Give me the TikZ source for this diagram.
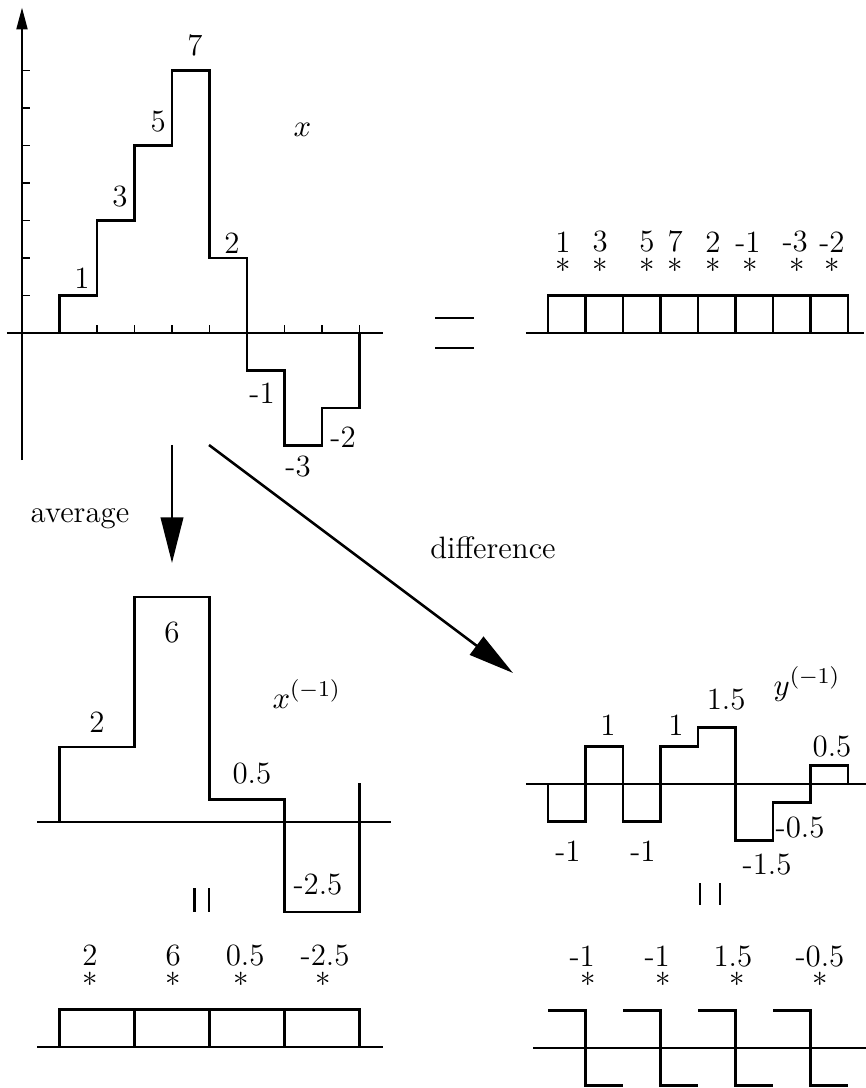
\documentclass[tikz,border=0pt]{standalone}
\usetikzlibrary{arrows.meta, positioning}

\begin{document}
\begin{tikzpicture}[
    x=0.0125cm, y=-0.0125cm, % layout grid: one unit per pixel
    font=\fontsize{11}{13}\selectfont,
    >=Latex, % Set default arrow tip style
    stepunit/.style={x=0.46875cm, y=0.46875cm}, % one sample step
    axisline/.style={line width=0.45pt},
    signal/.style={line width=0.9pt},
    lbl/.style={inner sep=0pt},
    flow/.style={-{Triangle[length=5.7mm, width=2.8mm]}, line width=0.9pt},
    eqbar/.style={line width=1pt}
]
    \useasboundingbox (0,0) rectangle (866,1088);

    % --- Signal x ---
    \begin{scope}[shift={(22,333)}, stepunit]
        \draw[axisline] (-0.4,0) -- (9.63,0);
        \draw[axisline, -{Triangle[length=2.7mm, width=1.4mm]}] (0,-3.39) -- (0,8.67);
        \foreach \k in {1,...,9} \draw[axisline] (\k,0) -- (\k,0.21);
        \foreach \k in {1,...,7} \draw[axisline] (0,\k) -- (0.21,\k);
        \draw[signal] (1,0) \foreach \v [count=\i] in {1,3,5,7,2,-1,-3,-2} { -- (\i,\v) -- (\i+1,\v) } -- (9,0);
        \foreach \px/\py/\t [count=\n] in {1.6/1.47/1, 2.61/3.65/3, 3.63/5.65/5, 4.61/7.68/7,
                                          5.6/2.4/2, 6.4/-1.6/-1, 7.36/-3.57/-3, 8.56/-2.77/-2}
            \node[lbl] (xv\n) at (\px,\py) {\t};
    \end{scope}
    \node[lbl, anchor=base west] (xname) at (293,137) {$x$};

    % --- Equal sign ---
    \draw[eqbar] (435,318) -- (474,318);
    \draw[eqbar] (435,348) -- (474,348);

    % --- Box functions for x ---
    \begin{scope}[shift={(548,333)}, stepunit]
        \draw[axisline] (-0.59,0) -- (8.43,0);
        \draw[signal] (0,0) |- (8,1) -- (8,0);
        \foreach \i in {1,...,7} \draw[signal] (\i,0) -- (\i,1);
        \foreach \px/\sx/\t [count=\n] in {0.4/0.4/1, 1.39/1.39/3, 2.64/2.64/5, 3.39/3.39/7,
                                          4.4/4.4/2, 5.33/5.39/-1, 6.59/6.65/-3, 7.57/7.57/-2} {
            \node[lbl] (cx\n) at (\px,2.43) {\t};
            \node[lbl] (sx\n) at (\sx,1.81) {$\ast$};
        }
    \end{scope}

    % --- Arrows ---
    \coordinate (avg_from) at (172,445);
    \coordinate (avg_to) at (172,563);
    \coordinate (dif_from) at (209,445);
    \coordinate (dif_to) at (513,673);
    \draw[flow] (avg_from) -- (avg_to);
    \draw[flow] (dif_from) -- (dif_to);
    \node[lbl, anchor=base] (avglabel) at (80,522) {average};
    \node[lbl, anchor=base] (diflabel) at (493,558) {difference};

    % --- Averages x^(-1) ---
    \begin{scope}[shift={(22,822)}, stepunit]
        \draw[axisline] (0.4,0) -- (9.84,0);
        \draw[signal] (1,0) \foreach \v [count=\i] in {2,6,0.6,-2.4} { -- (2*\i-1,\v) -- (2*\i+1,\v) } -- (9,1.04);
        \foreach \px/\py/\t [count=\n] in {2.0/2.67/2, 4.0/5.04/6, 6.13/1.28/0.5, 7.89/-1.68/-2.5}
            \node[lbl] (av\n) at (\px,\py) {\t};
    \end{scope}
    \node[lbl, anchor=base west] (avname) at (272,708) {$x^{(-1)}$};
    \draw[eqbar] (194.5,888) -- (194.5,912);
    \draw[eqbar] (209,888) -- (209,912);

    % --- Box functions for x^(-1) ---
    \begin{scope}[shift={(22,1047)}, stepunit]
        \draw[axisline] (0.4,0) -- (9.63,0);
        \draw[signal] (1,0) |- (9,1) -- (9,0);
        \foreach \i in {3,5,7} \draw[signal] (\i,0) -- (\i,1);
        \foreach \px/\sx/\t [count=\n] in {1.81/1.81/2, 4.03/4.03/6, 5.95/5.84/0.5, 8.08/8.03/-2.5} {
            \node[lbl] (ca\n) at (\px,2.45) {\t};
            \node[lbl] (sa\n) at (\sx,1.81) {$\ast$};
        }
    \end{scope}

    % --- Differences y^(-1) ---
    \begin{scope}[shift={(510.5,784)}, stepunit]
        \draw[axisline] (0.41,0) -- (9.48,0);
        \draw[signal] (1,0) \foreach \v [count=\i] in {-1,1,-1,1,1.5,-1.5,-0.5,0.5} { -- (\i,\v) -- (\i+1,\v) } -- (9,0);
        \foreach \px/\py/\t [count=\n] in {2.6/1.57/1, 4.41/1.57/1, 5.75/2.24/1.5, 8.57/1.01/0.5,
                                          1.53/-1.79/-1, 3.53/-1.79/-1, 7.72/-1.17/-0.5, 6.84/-2.16/-1.5}
            \node[lbl] (dv\n) at (\px,\py) {\t};
    \end{scope}
    \node[lbl, anchor=base west] (dfname) at (773,695) {$y^{(-1)}$};
    \draw[eqbar] (700,883) -- (700,905);
    \draw[eqbar] (720,883) -- (720,905);

    % --- Wavelets for y^(-1) ---
    \begin{scope}[shift={(510.5,1048)}, stepunit]
        \draw[axisline] (0.6,0) -- (9.48,0);
        \foreach \k in {0,...,3} \draw[signal] (2*\k+1,1) -| (2*\k+2,-1) -- (2*\k+3,-1);
        \foreach \px/\sx/\t [count=\n] in {1.91/2.07/-1, 3.91/4.07/-1, 5.93/6.04/1.5, 8.25/8.25/-0.5} {
            \node[lbl] (cd\n) at (\px,2.45) {\t};
            \node[lbl] (sd\n) at (\sx,1.84) {$\ast$};
        }
    \end{scope}

\end{tikzpicture}
\end{document}
